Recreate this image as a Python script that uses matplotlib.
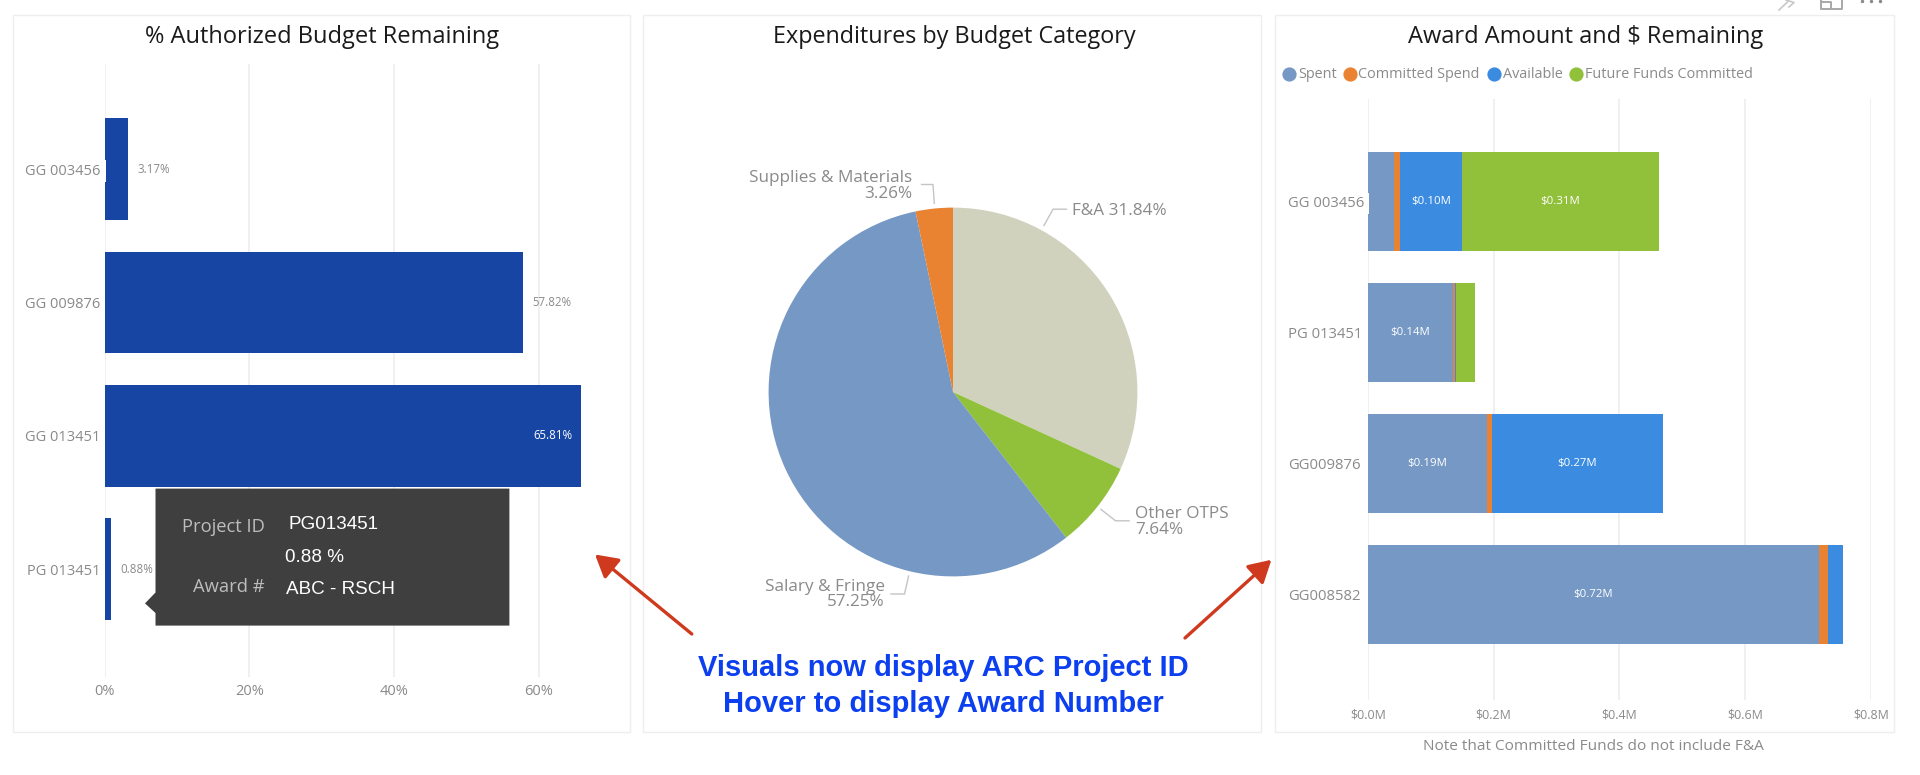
import matplotlib
matplotlib.use("Agg")
import matplotlib.pyplot as plt
from matplotlib.patches import Rectangle, Polygon, FancyArrowPatch

# ---- data ----
pct_projects = ["GG 003456", "GG 009876", "GG 013451", "PG 013451"]
pct_remaining = [3.17, 57.82, 65.81, 0.88]
pct_ticks = [0, 20, 40, 60]

pie_categories = ["F&A", "Other OTPS", "Salary & Fringe", "Supplies & Materials"]
pie_values = [31.84, 7.64, 57.25, 3.26]

award_projects = ["GG 003456", "PG 013451", "GG009876", "GG008582"]
spent = [0.041, 0.136, 0.190, 0.717]
committed = [0.0105, 0.003, 0.008, 0.015]
available = [0.098, 0.002, 0.271, 0.024]
future = [0.313, 0.029, 0.0, 0.0]
award_ticks = [0.0, 0.2, 0.4, 0.6, 0.8]
series_names = ["Spent", "Committed Spend", "Available", "Future Funds Committed"]

tooltip_rows = [("Project ID", "PG013451"), ("", "0.88 %"), ("Award #", "ABC - RSCH")]

# ---- styles ----
W, H = 1920, 775
UI = "Open Sans"
C_BAR = "#1745A3"
C_SPENT = "#7698C4"
C_COMMIT = "#E98231"
C_AVAIL = "#3B8CE0"
C_FUTURE = "#91C03A"
C_BEIGE = "#D1D2BE"
C_GRID = "#EFEFEF"
C_TXT = "#8A8A8A"
C_ARROW = "#CF3A1E"
C_BLUE = "#0C3FEF"
plt.rcParams["font.family"] = UI

fig = plt.figure(figsize=(W / 100, H / 100), dpi=100, facecolor="white")


def axes_px(x0, y0, x1, y1, **kw):
    return fig.add_axes([x0 / W, 1 - y1 / H, (x1 - x0) / W, (y1 - y0) / H], **kw)


def strip(ax):
    for s in ax.spines.values():
        s.set_visible(False)
    ax.set_axisbelow(True)
    ax.grid(axis="x", color=C_GRID, lw=1.3)
    ax.grid(axis="y", visible=False)


# ---- left: % remaining ----
ax1 = axes_px(104.7, 64, 538.8 + 60, 677)
strip(ax1)
ax1.barh(range(4), pct_remaining, height=0.763, color=C_BAR)
ax1.set_xlim(0, 60 * (598.8 - 104.7) / (538.8 - 104.7))
ax1.set_ylim(3.81, -0.789)
ax1.set_xticks(pct_ticks, [f"{t}%" for t in pct_ticks], fontsize=10.5, color=C_TXT)
ax1.set_yticks(range(4), pct_projects, fontsize=10.5, color=C_TXT, va="center_baseline")
ax1.tick_params(axis="both", length=0)
ax1.tick_params(axis="y", pad=3)
ax1.tick_params(axis="x", pad=5)
for i, v in enumerate(pct_remaining):
    if v > 60:
        ax1.text(v - 1.2, i, f"{v:.2f}%", ha="right", va="center", fontsize=8.3, color="white")
    else:
        ax1.text(v + 1.31, i, f"{v:.2f}%", ha="left", va="center", fontsize=8.3, color=C_TXT)

# ---- centre: pie ----
R = 184.4
ax2 = axes_px(953 - 1.25 * R, 392 - 1.25 * R, 953 + 1.25 * R, 392 + 1.25 * R)
ax2.pie(pie_values, colors=[C_BEIGE, C_FUTURE, C_SPENT, C_COMMIT], startangle=90,
        counterclock=False, wedgeprops={"linewidth": 0})

# ---- right: stacked bars ----
ax3 = axes_px(1367.8, 98.9, 1870.7, 699.8)
strip(ax3)
left = [0.0] * 4
for vals, col in zip([spent, committed, available, future], [C_SPENT, C_COMMIT, C_AVAIL, C_FUTURE]):
    ax3.barh(range(4), vals, left=left, height=0.76, color=col)
    for i, v in enumerate(vals):
        if v >= 0.09:
            ax3.text(left[i] + v / 2, i, f"${v:.2f}M", ha="center", va="center", fontsize=8.2, color="white")
    left = [a + b for a, b in zip(left, vals)]
ax3.set_xlim(0, 0.8)
ax3.set_ylim(3.804, -0.783)
ax3.set_xticks(award_ticks, [f"${t:.1f}M" for t in award_ticks], fontsize=8.9, color=C_TXT)
ax3.set_yticks(range(4), award_projects, fontsize=10.7, color=C_TXT, ha="left", va="center_baseline")
ax3.tick_params(axis="both", length=0)
ax3.tick_params(axis="y", pad=57.4)
ax3.tick_params(axis="x", pad=6)

# ---- overlay in pixel space: frames, titles, callouts ----
ov = fig.add_axes([0, 0, 1, 1], zorder=10, facecolor="none")
ov.set_xlim(0, W)
ov.set_ylim(H, 0)
ov.axis("off")

for x0, x1 in [(13, 630), (643, 1261), (1275, 1893.5)]:
    ov.add_patch(Rectangle((x0, 15.3), x1 - x0, 716.4, fc="none", ec="#EEEEEE", lw=1))

for cx, t, fs in [(322.4, "% Authorized Budget Remaining", 17), (953.9, "Expenditures by Budget Category", 16.8),
                  (1585.7, "Award Amount and $ Remaining", 17)]:
    ov.text(cx, 37, t, ha="center", va="center", fontsize=fs, color="#1A1A1A")

# small white notches at the axis
ov.add_patch(Rectangle((104.7, 160), 1.4, 22, fc="white", ec="none"))
ov.add_patch(Rectangle((1367.8, 193), 1.2, 20.5, fc="white", ec="none"))

# legend
for mx, tx, name, col in zip([1289, 1349.6, 1494.3, 1576], [1297.8, 1357.9, 1502.6, 1584.7], series_names,
                             [C_SPENT, C_COMMIT, C_AVAIL, C_FUTURE]):
    ov.scatter([mx], [74], s=105, color=col, lw=0)
    ov.text(tx, 74, name, ha="left", va="center", fontsize=10.35, color=C_TXT)

ov.text(1593, 746.8, "Note that Committed Funds do not include F&A", ha="center", va="center",
        fontsize=11.1, color=C_TXT)

# pie labels + leaders
LBL = {"fontsize": 12.35, "color": C_TXT, "linespacing": 0.93}
ov.text(912.6, 186, f"{pie_categories[3]}\n{pie_values[3]:.2f}%", ha="right", va="center", multialignment="right", **LBL)
ov.text(1071.8, 211, f"{pie_categories[0]} {pie_values[0]:.2f}%", ha="left", va="center", **LBL)
ov.text(1135, 522, f"{pie_categories[1]}\n{pie_values[1]:.2f}%", ha="left", va="center", multialignment="left", **LBL)
ov.text(885, 594.5, f"{pie_categories[2]}\n{pie_values[2]:.2f}%", ha="right", va="center", multialignment="right", **LBL)
for xs, ys in [((921.6, 933, 934.3), (184.5, 184.5, 203.3)), ((1066.5, 1053, 1044), (209.2, 209.2, 225.5)),
               ((1129, 1115.5, 1101), (520.8, 520.8, 509.4)), ((891, 904.5, 908.6), (594, 594, 576))]:
    ov.plot(xs, ys, color="#C4C4C4", lw=1)

# tooltip
ov.add_patch(Polygon([(145, 603.4), (155.5, 592.5), (155.5, 488.6), (509.4, 488.6), (509.4, 625.6),
                      (155.5, 625.6), (155.5, 613)], fc="#3F3F3F", ec="none"))
for (lab, val), ly, vy, vx in zip(tooltip_rows, [527, 0, 587.5], [524.8, 557.9, 589], [288, 285, 285.7]):
    if lab:
        ov.text(264.5, ly, lab, ha="right", va="center", fontsize=13.2, color="#BDBDBD")
    ov.text(vx, vy, val, ha="left", va="center", fontsize=13.6, color="white", family="Liberation Sans")

# arrows and callout text
for tail, tip in [((691.8, 634), (595, 554.5)), ((1185, 638), (1271.4, 559.8))]:
    ov.add_patch(FancyArrowPatch(tail, tip, arrowstyle="-|>,head_length=5.6,head_width=3.2", mutation_scale=2.4,
                                 color=C_ARROW, lw=2.4, shrinkA=0, shrinkB=0))
for y, t in [(668.5, "Visuals now display ARC Project ID"), (703.5, "Hover to display Award Number")]:
    ov.text(943, y, t, ha="center", va="center", fontsize=21, fontweight="bold", color=C_BLUE,
            family="Liberation Sans")

# window-chrome icons, cut by the top edge
ov.plot([1779, 1788], [10, 1.5], color="#C8C8C8", lw=1.2)
ov.plot([1786, 1794, 1789], [0, 2.5, 7], color="#C8C8C8", lw=1.2)
ov.plot([1820.5, 1820.5, 1842, 1842], [0, 9, 9, 0], color="#A8A8A8", lw=1.4)
ov.plot([1820.5, 1831, 1831], [2, 2, 9], color="#A8A8A8", lw=1.4)
ov.scatter([1862, 1871, 1880], [0.5, 0.5, 0.5], s=6, color="#888888", lw=0)

fig.savefig("out.png", dpi=100, facecolor="white")
